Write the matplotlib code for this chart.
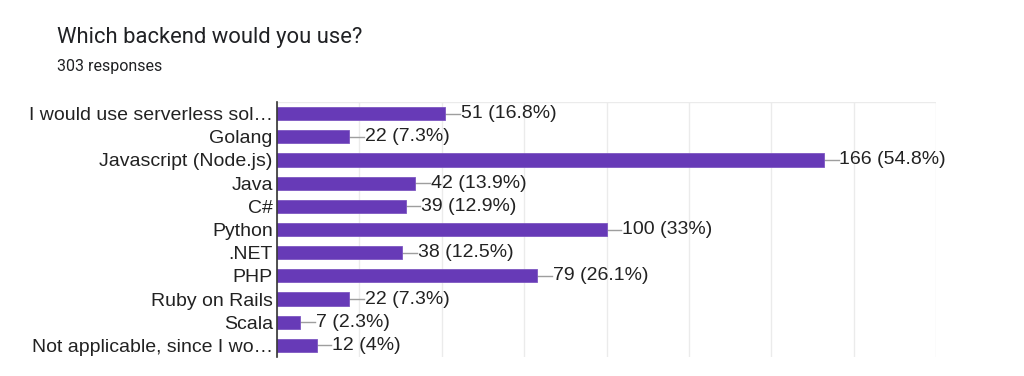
import numpy as np
import matplotlib.pyplot as plt

categories = ["I would use serverless sol\u2026", "Golang", "Javascript (Node.js)", "Java", "C#",
              "Python", ".NET", "PHP", "Ruby on Rails", "Scala", "Not applicable, since I wo\u2026"]
counts = [51, 22, 166, 42, 39, 100, 38, 79, 22, 7, 12]
percents = ["16.8%", "7.3%", "54.8%", "13.9%", "12.9%", "33%", "12.5%", "26.1%", "7.3%", "2.3%", "4%"]
total = 303

fig = plt.figure(figsize=(10.24, 3.76), dpi=100)
fig.text(57 / 1024, 1 - 37 / 376, "Which backend would you use?", family="Roboto",
         fontsize=15.8, color="#202124", va="center", ha="left")
fig.text(57 / 1024, 1 - 66 / 376, "%d responses" % total, family="Roboto",
         fontsize=11.5, color="#202124", va="center", ha="left")

ax = fig.add_axes([277 / 1024, 1 - 357 / 376, (936 - 277) / 1024, (357 - 102) / 376])
y = np.arange(len(categories))
ax.barh(y, counts, height=0.57, color="#673ab7", edgecolor="#7e57c2", linewidth=0.6, zorder=3)
ax.set_ylim(len(categories) - 0.5, -0.5)
ax.set_xlim(0, 200)
ax.set_xticks(np.arange(0, 201, 25))
ax.set_xticklabels([])
ax.tick_params(axis="x", length=0)
ax.tick_params(axis="y", length=0, pad=3)
ax.set_yticks(y)
ax.set_yticklabels(categories, family="Liberation Sans", fontsize=14, color="#222222")
ax.grid(axis="x", color="#ebebeb", linewidth=1, zorder=0)
for s in ["top", "right", "bottom"]:
    ax.spines[s].set_visible(False)
ax.spines["left"].set_color("#333333")
ax.spines["left"].set_linewidth(1.2)
ax.spines["left"].set_zorder(4)
ax.axhline(-0.5, color="#ebebeb", linewidth=1, zorder=0)

for yi, c, p in zip(y, counts, percents):
    ax.plot([c, c + 4.5], [yi, yi], color="#9e9e9e", linewidth=1, zorder=2)
    ax.text(c + 4.7, yi, "%d (%s)" % (c, p), family="Liberation Sans", fontsize=14,
            color="#222222", va="center", ha="left")

fig.savefig("out.png", dpi=100)
